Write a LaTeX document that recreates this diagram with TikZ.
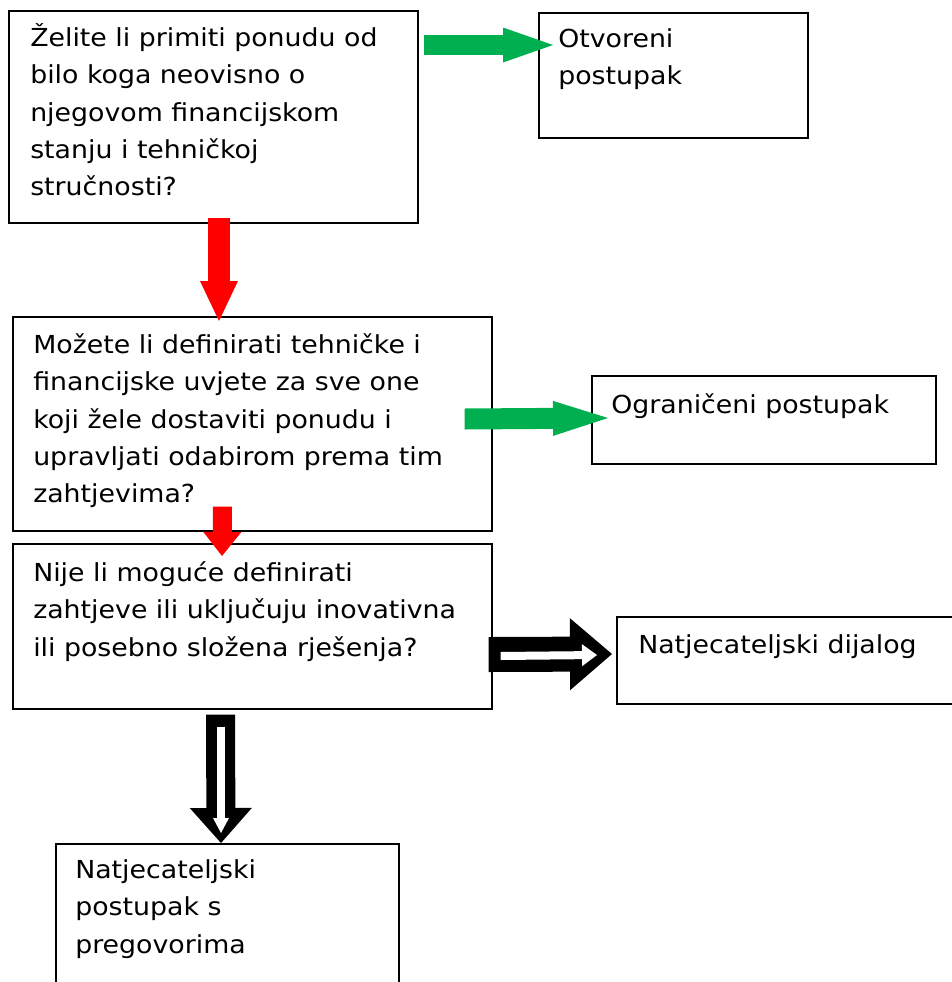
\documentclass[tikz,border=0pt]{standalone}
\usepackage{fontspec}
\setmainfont{DejaVu Sans}[FakeStretch=1.08]
\usetikzlibrary{arrows.meta}
\definecolor{zelenaboja}{RGB}{0,176,80}
\newlength{\px}
\setlength{\px}{0.75pt}

\begin{document}
\begin{tikzpicture}[x=0.75pt, y=-0.75pt,
  okvir/.style={draw, line width=1.2pt, anchor=north west, inner sep=0pt},
  tekst/.style={anchor=north west, inner sep=0pt, align=left,
    font=\fontsize{18.6}{28}\selectfont},
  zelena/.style={draw=zelenaboja},
  crvena/.style={draw=red},
  crna/.style={draw=black},
  bijela/.style={draw=white}]
  \useasboundingbox (0,0) rectangle (952,982);
  \clip (0,0) rectangle (952,982);

  % okviri
  \node[okvir, minimum width=409\px, minimum height=212\px] (pitanje1) at (8,10) {};
  \node[okvir, minimum width=269\px, minimum height=125\px] (otvoreni) at (538,12) {};
  \node[okvir, minimum width=479\px, minimum height=214\px] (pitanje2) at (12,316) {};
  \node[okvir, minimum width=344\px, minimum height=88\px] (ograniceni) at (591,375) {};
  \node[okvir, minimum width=479\px, minimum height=165\px] (pitanje3) at (12,543) {};
  \node[okvir, minimum width=360\px, minimum height=87\px] (dijalog) at (616,616) {};
  \node[okvir, minimum width=343\px, minimum height=180\px] (pregovori) at (55,843) {};

  % tekstovi
  \node[tekst] (tpitanje1) at ([shift={(22,10)}]pitanje1.north west)
    {\strut Želite li primiti ponudu od\\bilo koga neovisno o\\njegovom financijskom\\stanju i tehničkoj\\stručnosti?};
  \node[tekst] (totvoreni) at ([shift={(20,9)}]otvoreni.north west)
    {\strut Otvoreni\\postupak};
  \node[tekst] (tpitanje2) at ([shift={(21,11)}]pitanje2.north west)
    {\strut Možete li definirati tehničke i\\financijske uvjete za sve one\\koji žele dostaviti ponudu i\\upravljati odabirom prema tim\\zahtjevima?};
  \node[tekst] (tograniceni) at ([shift={(20,12)}]ograniceni.north west)
    {\strut Ograničeni postupak};
  \node[tekst] (tpitanje3) at ([shift={(21,12)}]pitanje3.north west)
    {\strut Nije li moguće definirati\\zahtjeve ili uključuju inovativna\\ili posebno složena rješenja?};
  \node[tekst] (tdijalog) at ([shift={(22,11)}]dijalog.north west)
    {\strut Natjecateljski dijalog};
  \node[tekst] (tpregovori) at ([shift={(20,9)}]pregovori.north west)
    {\strut Natjecateljski\\postupak s\\pregovorima};

  % strelice
  \draw[zelena, line width=15pt, -{Triangle[length=37.5pt, width=26.25pt, line width=0pt]}]
    ([shift={(5,35)}]pitanje1.north east) -- ([shift={(15,33)}]otvoreni.north west);
  \draw[crvena, line width=16.5pt, -{Triangle[length=30pt, width=28.5pt, line width=0pt]}]
    ([shift={(211,-6)}]pitanje1.south west) -- ([shift={(207,5)}]pitanje2.north west);
  \draw[zelena, line width=15.75pt, -{Triangle[length=41.25pt, width=26.25pt, line width=0pt]}]
    ([shift={(-28,103)}]pitanje2.north east) -- ([shift={(17,43)}]ograniceni.north west);
  \draw[crvena, line width=14.25pt, -{Triangle[length=18pt, width=28.5pt, line width=0pt]}]
    ([shift={(210.5,-25)}]pitanje2.south west) -- ([shift={(210,13)}]pitanje3.north west);
  % \draw[crna, line width=1pt] (pitanje3.east) -- (dijalog.west);
  \draw[crna, line width=26.25pt, -{Triangle[length=31.5pt, width=54pt, line width=0pt]}]
    ([shift={(-4,111.5)}]pitanje3.north east) -- ([shift={(-4,38)}]dijalog.north west);
  \draw[bijela, line width=6pt, -{Triangle[length=11.25pt, width=16.5pt, line width=0pt]}]
    ([shift={(8,113)}]pitanje3.north east) -- ([shift={(-19,39)}]dijalog.north west);
  \draw[crna, line width=21.75pt, -{Triangle[length=26.25pt, width=46.5pt, line width=0pt]}]
    ([shift={(208.5,5)}]pitanje3.south west) -- ([shift={(166,0)}]pregovori.north west);
  \draw[bijela, line width=6pt, -{Triangle[length=11.25pt, width=12pt, line width=0pt]}]
    ([shift={(209,17)}]pitanje3.south west) -- ([shift={(166,-10)}]pregovori.north west);
\end{tikzpicture}
\end{document}
